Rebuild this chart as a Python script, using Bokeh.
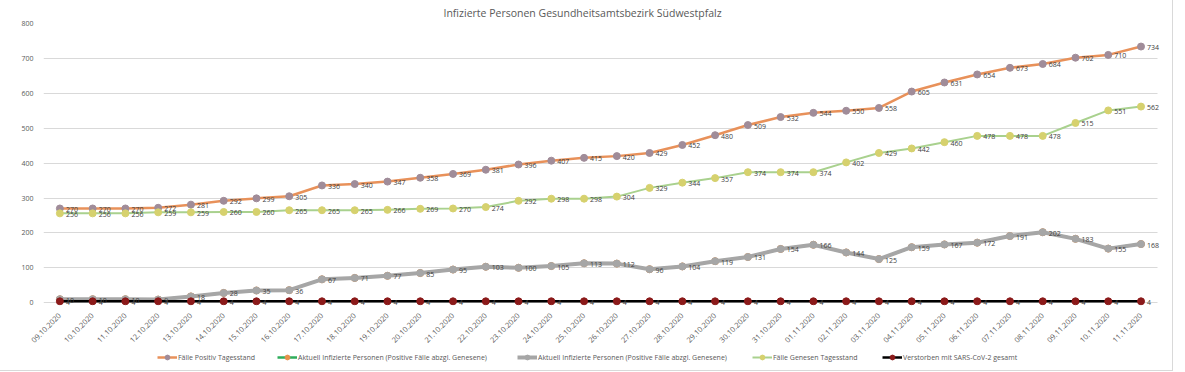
from bokeh.plotting import figure
from bokeh.layouts import column
from bokeh.models import (Range1d, Legend, LegendItem, FixedTicker,
                          ColumnDataSource, LabelSet)
from bokeh.core.properties import value
from bokeh.embed import file_html
from bokeh.resources import INLINE
import math

dates = ["09.10.2020", "10.10.2020", "11.10.2020", "12.10.2020", "13.10.2020",
         "14.10.2020", "15.10.2020", "16.10.2020", "17.10.2020", "18.10.2020",
         "19.10.2020", "20.10.2020", "21.10.2020", "22.10.2020", "23.10.2020",
         "24.10.2020", "25.10.2020", "26.10.2020", "27.10.2020", "28.10.2020",
         "29.10.2020", "30.10.2020", "31.10.2020", "01.11.2020", "02.11.2020",
         "03.11.2020", "04.11.2020", "05.11.2020", "06.11.2020", "07.11.2020",
         "08.11.2020", "09.11.2020", "10.11.2020", "11.11.2020"]

positiv = [270, 270, 270, 272, 281, 292, 299, 305, 336, 340, 347, 358, 369, 381,
           396, 407, 415, 420, 429, 452, 480, 509, 532, 544, 550, 558, 605, 631,
           654, 673, 684, 702, 710, 734]
aktuell = [10, 10, 10, 9, 18, 28, 35, 36, 67, 71, 77, 85, 95, 103, 100, 105, 113,
           112, 96, 104, 119, 131, 154, 166, 144, 125, 159, 167, 172, 191, 202,
           183, 155, 168]
genesen = [256, 256, 256, 259, 259, 260, 260, 265, 265, 265, 266, 269, 270, 274,
           292, 298, 298, 304, 329, 344, 357, 374, 374, 374, 402, 429, 442, 460,
           478, 478, 478, 515, 551, 562]
verstorben = [4, 4, 4, 4, 4, 4, 4, 4, 4, 4, 4, 4, 4, 4, 4, 4, 4, 4, 4, 4, 4, 4,
              4, 4, 4, 4, 4, 4, 4, 4, 4, 4, 4, 4]

series_names = ["Fälle Positiv Tagesstand",
                "Aktuell Infizierte Personen (Positive Fälle abzgl. Genesene)",
                "Aktuell Infizierte Personen (Positive Fälle abzgl. Genesene)",
                "Fälle Genesen Tagesstand",
                "Verstorben mit SARS-CoV-2 gesamt"]
y_ticks = [0, 100, 200, 300, 400, 500, 600, 700, 800]
title_text = "Infizierte Personen Gesundheitsamtsbezirk Südwestpfalz"

FONT = "Open Sans"
# style per series: line colour, line width, marker colour
styles = [("#E8915A", 2.5, "#A08C99"),
          ("#2EAD5B", 2.5, "#E8914B"),
          ("#A6A6A6", 4, "#A6A6A6"),
          ("#A9D18E", 2, "#D6D16E"),
          ("#000000", 2.5, "#8B1A1A")]

xs = list(range(len(dates)))

p = figure(x_range=Range1d(-0.5, len(dates) - 0.1), y_range=Range1d(-8, 800),
           width=1172, height=348, output_backend="svg", toolbar_location=None,
           min_border_left=43, min_border_right=2, min_border_top=19,
           min_border_bottom=43)
p.outline_line_color = None
p.xgrid.grid_line_color = None
p.ygrid.grid_line_color = "#D9D9D9"
p.ygrid.grid_line_width = 1
if "cross_bounds" in p.ygrid[0].properties():
    p.ygrid.cross_bounds = (-0.5, len(dates) - 0.5)

p.title.text = title_text
p.title.text_font = FONT
p.title.text_font_size = "10.5px"
p.title.text_font_style = "normal"
p.title.text_color = "#595959"
p.title.align = "left"
p.title.offset = 400
p.title.standoff = 7

p.yaxis.ticker = FixedTicker(ticks=y_ticks)
p.yaxis.axis_line_color = None
p.yaxis.major_tick_line_color = None
p.yaxis.minor_tick_line_color = None
p.yaxis.major_label_text_font_size = "7px"
p.yaxis.major_label_text_font = FONT
p.yaxis.major_label_text_color = "#595959"
p.yaxis.major_label_standoff = 4

p.xaxis.ticker = FixedTicker(ticks=xs)
p.xaxis.major_label_overrides = {i: d for i, d in zip(xs, dates)}
p.xaxis.axis_line_color = None
p.xaxis.major_tick_line_color = None
p.xaxis.minor_tick_line_color = None
p.xaxis.major_label_orientation = math.pi / 4
p.xaxis.major_label_text_font_size = "7.5px"
p.xaxis.major_label_text_font = FONT
p.xaxis.major_label_text_color = "#595959"
p.xaxis.major_label_standoff = 3


def add_series(fig, x, y, style):
    lc, lw, mc = style
    src = ColumnDataSource(dict(x=x, y=y, t=[str(v) for v in y]))
    ln = fig.line("x", "y", source=src, line_color=lc, line_width=lw,
                  line_join="round")
    sc = fig.scatter("x", "y", source=src, size=7, fill_color=mc,
                     line_color=mc)
    return src, [ln, sc]


all_y = [positiv, aktuell, aktuell, genesen, verstorben]
sources = []
for y, st in zip(all_y, styles):
    src, _ = add_series(p, xs, y, st)
    sources.append(src)

for i in (0, 2, 3, 4):
    ls = LabelSet(x="x", y="y", text="t", source=sources[i], x_offset=6,
                  y_offset=-1, text_baseline="middle", text_font_size="7px",
                  text_font=value(FONT), text_color="#404040")
    p.add_layout(ls)

# legend strip below the chart (series drawn out of its view, legend only)
lg = figure(width=1172, height=22, x_range=p.x_range,
            y_range=Range1d(2000, 2100), output_backend="svg",
            toolbar_location=None, min_border=0,
            x_axis_location=None, y_axis_location=None)
lg.grid.visible = False
lg.outline_line_color = None

legend_x = [114, 234, 474, 709, 839]
for name, y, st, vx in zip(series_names, all_y, styles, legend_x):
    _, rs = add_series(lg, xs, y, st)
    leg = Legend(items=[LegendItem(label=name, renderers=rs)],
                 location=(vx, 7), orientation="horizontal",
                 padding=0, margin=0, spacing=0, glyph_width=20,
                 glyph_height=12, label_height=12, label_standoff=1,
                 label_text_font_size="7px", label_text_font=FONT,
                 label_text_color="#595959", background_fill_alpha=0,
                 border_line_color=None)
    lg.add_layout(leg)

layout = column(p, lg, spacing=0)
layout.styles = {"border-right": "1px solid #D9D9D9",
                 "border-bottom": "1px solid #D9D9D9"}
open("out.html", "w").write(file_html(layout, INLINE))
